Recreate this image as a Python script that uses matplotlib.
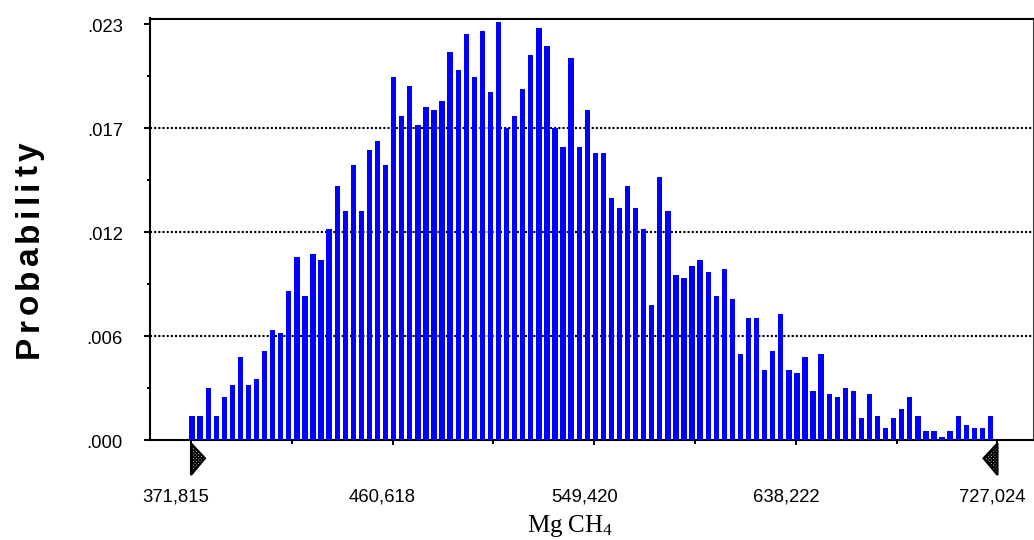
import matplotlib
matplotlib.use("Agg")
import matplotlib.pyplot as plt
import numpy as np
from matplotlib.patches import Polygon
from matplotlib.transforms import Affine2D, ScaledTranslation, blended_transform_factory, offset_copy
from matplotlib.font_manager import FontProperties

# ---------------- data ----------------
range_min = 371.815
range_max = 727.024
probabilities = [
    0.00135, 0.00135, 0.00287, 0.00135, 0.00237, 0.00304, 0.00457, 0.00304, 0.00337, 0.00491,
    0.00607, 0.00593, 0.00826, 0.01013, 0.00794, 0.01030, 0.00996, 0.01165, 0.01402, 0.01267,
    0.01520, 0.01267, 0.01604, 0.01654, 0.01520, 0.02009, 0.01791, 0.01959, 0.01741, 0.01841,
    0.01824, 0.01874, 0.02146, 0.02044, 0.02246, 0.02009, 0.02263, 0.01926, 0.02313, 0.01722,
    0.01791, 0.01943, 0.02128, 0.02280, 0.02178, 0.01722, 0.01622, 0.02111, 0.01622, 0.01824,
    0.01589, 0.01589, 0.01335, 0.01285, 0.01402, 0.01285, 0.01165, 0.00744, 0.01452, 0.01267,
    0.00913, 0.00896, 0.00963, 0.00996, 0.00930, 0.00794, 0.00946, 0.00778, 0.00474, 0.00676,
    0.00676, 0.00389, 0.00491, 0.00694, 0.00389, 0.00372, 0.00457, 0.00270, 0.00474, 0.00254,
    0.00237, 0.00287, 0.00270, 0.00119, 0.00254, 0.00135, 0.00069, 0.00119, 0.00169, 0.00237,
    0.00135, 0.00050, 0.00050, 0.00017, 0.00050, 0.00135, 0.00085, 0.00069, 0.00069, 0.00135,
]
xtick_values = [371.815, 460.618, 549.420, 638.222, 727.024]
xtick_labels = ["371,815", "460,618", "549,420", "638,222", "727,024"]
ytick_values = [0.0, 0.00575, 0.0115, 0.01725, 0.023]
ytick_labels = [".000", ".006", ".012", ".017", ".023"]
x_label = r"Mg CH$_\mathrm{4}$"
y_label = "Probability"

# ---------------- style ----------------
plt.rcParams["font.family"] = ["Liberation Sans", "DejaVu Sans"]
plt.rcParams["mathtext.fontset"] = "custom"
plt.rcParams["mathtext.rm"] = "Liberation Serif"
plt.rcParams["mathtext.it"] = "Liberation Serif:italic"

W, H = 1034, 540
fig = plt.figure(figsize=(W / 100, H / 100), dpi=100)
ax = fig.add_axes([150 / W, 100 / H, (1033 - 150) / W, (440 - 18.5) / H])

n = len(probabilities)
bin_w = (range_max - range_min) / n
edges = range_min + bin_w * np.arange(n)
ax.bar(edges - 0.2 * bin_w, probabilities, width=0.66 * bin_w, align="edge",
       color="#0000ff", edgecolor="none", zorder=3)

ax.set_xlim(353.76, 742.66)
ax.set_ylim(0, 0.0233)

# ticks
ax.set_xticks(xtick_values)
ax.set_xticks(np.convolve(xtick_values, [0.5, 0.5], mode="valid"), minor=True)
ax.set_yticks(ytick_values)
ax.set_yticks(np.convolve(ytick_values, [0.5, 0.5], mode="valid"), minor=True)
ax.tick_params(axis="both", which="both", direction="out", color="black",
               labelbottom=False, labelleft=False)
ax.tick_params(axis="y", which="major", length=4.3, width=1.4)
ax.tick_params(axis="y", which="minor", length=2.2, width=1.4)
ax.tick_params(axis="x", which="major", length=3.6, width=1.4)
ax.tick_params(axis="x", which="minor", length=2.9, width=1.4)

# grid (dotted), only interior lines
ax.set_axisbelow(True)
ax.grid(axis="y", which="major", color="black", linestyle=(0, (1, 1)), linewidth=1.5)
gl = ax.yaxis.get_gridlines()
gl[0].set_visible(False)
gl[-1].set_visible(False)

# spines
for s in ["left", "bottom", "top"]:
    ax.spines[s].set_color("black")
    ax.spines[s].set_linewidth(1.5)
ax.spines["right"].set_color("#404040")
ax.spines["right"].set_linewidth(0.8)

# x tick labels (manual, with Crystal Ball style offsets)
xb = blended_transform_factory(ax.transData, ax.transAxes)
x_dx = [-15, -10, -10, -10, -5]
for v, lab, dx in zip(xtick_values, xtick_labels, x_dx):
    ax.text(v, 0, lab, transform=offset_copy(xb, fig, x=dx, y=-61, units="dots"),
            ha="center", va="baseline", fontsize=13.3, clip_on=False)

# y tick labels
yb = blended_transform_factory(ax.transAxes, ax.transData)
for v, lab in zip(ytick_values, ytick_labels):
    ax.text(0, v, lab, transform=offset_copy(yb, fig, x=-27, y=-7.7, units="dots"),
            ha="right", va="baseline", fontsize=13.3, clip_on=False)

# certainty grabbers (markers under the range ends)
for v, sgn in [(range_min, 1), (range_max, -1)]:
    tr = Affine2D().scale(1.0) + ScaledTranslation(v, 0, ax.transData)
    poly = Polygon([(0, -3.3), (sgn * 14, -18.3), (0, -35)], closed=True,
                   facecolor="white", edgecolor="black", linewidth=1.5,
                   hatch="xxxxxxxxxx", transform=tr, clip_on=False, zorder=5)
    ax.add_patch(poly)

# x label
fig.text(570 / W, (H - 532) / H, x_label, ha="center", va="baseline",
         fontsize=18, family="Liberation Serif")

# y label, letter-spaced bold
fp = FontProperties(family="Liberation Sans", weight="bold", size=24)
renderer = fig.canvas.get_renderer()
widths = [renderer.get_text_width_height_descent(c, fp, ismath=False)[0] for c in y_label]
total_len = 216.0
gap = (total_len - sum(widths)) / (len(y_label) - 1)
y_pos = H - 358
for c, w in zip(y_label, widths):
    fig.text(38 / W, y_pos / H, c, fontproperties=fp, rotation=90,
             rotation_mode="anchor", ha="left", va="baseline")
    y_pos += w + gap

fig.savefig("out.png", dpi=100)
